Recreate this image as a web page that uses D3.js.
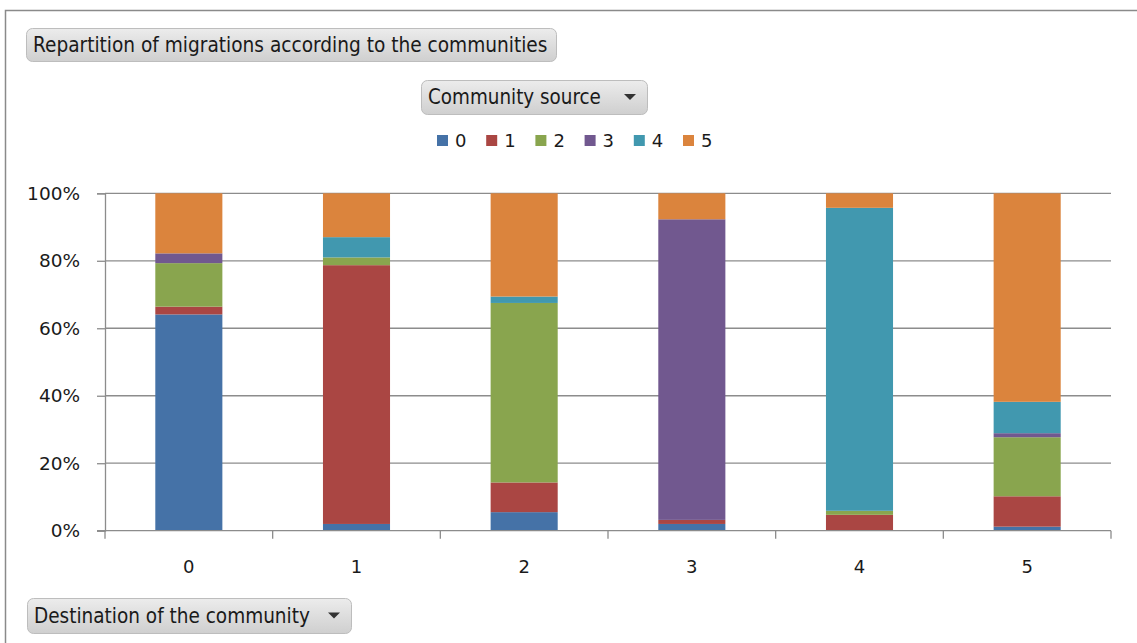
<!DOCTYPE html>
<html>
<head>
<meta charset="utf-8">
<script src="https://cdn.jsdelivr.net/npm/d3@7"></script>
<style>
  html, body { margin: 0; padding: 0; background: #fff; }
  svg { display: block; }
  text { font-family: "DejaVu Sans", Verdana, sans-serif; fill: #1a1a1a; }
  .btn-label { font-family: "DejaVu Sans Condensed", "DejaVu Sans", sans-serif; }
</style>
</head>
<body>
<svg id="chart" width="1137" height="643"></svg>
<script>
// Destination communities (x axis) and source communities (stacked series)
const destinations = ["0", "1", "2", "3", "4", "5"];
const sources = ["0", "1", "2", "3", "4", "5"];

// Share (%) of migrations coming from each source community, per destination
const fromSource0 = [64.1, 2.0, 5.5, 2.0, 0.0, 1.2];
const fromSource1 = [2.3, 76.7, 8.8, 1.2, 4.7, 9.0];
const fromSource2 = [12.9, 2.3, 53.2, 0.0, 1.2, 17.5];
const fromSource3 = [2.9, 0.0, 0.0, 89.1, 0.0, 1.2];
const fromSource4 = [0.0, 6.0, 1.9, 0.0, 89.8, 9.3];
const fromSource5 = [17.8, 13.0, 30.6, 7.7, 4.3, 61.8];

const yTicks = [0, 0.2, 0.4, 0.6, 0.8, 1.0];
const seriesColors = ["#4572A7", "#AA4643", "#89A54E", "#71588F", "#4198AF", "#DB843D"];

const seriesValues = [fromSource0, fromSource1, fromSource2, fromSource3, fromSource4, fromSource5];
const rows = destinations.map((d, i) => {
  const row = { destination: d };
  sources.forEach((s, j) => { row[s] = seriesValues[j][i]; });
  return row;
});

const svg = d3.select("#chart");

// Outer chart frame
svg.append("path")
  .attr("d", "M5.5,643 V10.5 H1137")
  .attr("fill", "none")
  .attr("stroke", "#8a8a8a")
  .attr("stroke-width", 1.5);

// Gradient used by the field buttons
const defs = svg.append("defs");
const grad = defs.append("linearGradient").attr("id", "btn").attr("x1", 0).attr("y1", 0).attr("x2", 0).attr("y2", 1);
grad.append("stop").attr("offset", "0%").attr("stop-color", "#ececec");
grad.append("stop").attr("offset", "55%").attr("stop-color", "#dcdcdc");
grad.append("stop").attr("offset", "100%").attr("stop-color", "#cfcfcf");

function fieldButton(x, y, w, h, label, textX, textW, arrow) {
  const g = svg.append("g");
  g.append("rect")
    .attr("x", x + 0.5).attr("y", y + 0.5)
    .attr("width", w).attr("height", h)
    .attr("rx", 6).attr("ry", 6)
    .attr("fill", "url(#btn)")
    .attr("stroke", "#bdbdbd")
    .attr("stroke-width", 1);
  const t = g.append("text")
    .attr("class", "btn-label")
    .attr("x", textX)
    .attr("y", y + h / 2)
    .attr("dy", "0.36em")
    .attr("font-size", 18)
    .attr("fill", "#2a2a2a")
    .text(label);
  const len = t.node().getComputedTextLength();
  t.attr("font-size", 18 * textW / len);
  if (arrow) {
    const ax = x + w - 17, ay = y + h / 2;
    g.append("path")
      .attr("d", `M${ax - 6},${ay - 3} L${ax + 6},${ay - 3} L${ax},${ay + 3} Z`)
      .attr("fill", "#333");
  }
}

fieldButton(26, 28, 530, 33, "Repartition of migrations according to the communities", 33, 515, false);
fieldButton(421, 80, 226, 34, "Community source", 428, 173, true);
fieldButton(27, 598, 324, 35, "Destination of the community", 34, 276, true);

// Legend
const legend = svg.append("g");
sources.forEach((s, i) => {
  const lx = 437 + i * 49.2;
  legend.append("rect")
    .attr("x", lx).attr("y", 135)
    .attr("width", 11).attr("height", 11)
    .attr("fill", seriesColors[i]);
  legend.append("text")
    .attr("x", lx + 18).attr("y", 141)
    .attr("dy", "0.36em")
    .attr("font-size", 18)
    .text(s);
});

// Plot area
const plotLeft = 105, plotRight = 1111, plotTop = 193.3, plotBottom = 530.7;

const x = d3.scaleBand()
  .domain(destinations)
  .range([plotLeft, plotRight])
  .paddingInner(0.6)
  .paddingOuter(0.3);

const y = d3.scaleLinear()
  .domain([0, 1])
  .range([plotBottom, plotTop]);

// Horizontal gridlines
svg.append("g")
  .selectAll("line")
  .data(yTicks.filter(v => v > 0))
  .join("line")
  .attr("x1", plotLeft).attr("x2", plotRight)
  .attr("y1", d => y(d)).attr("y2", d => y(d))
  .attr("stroke", "#8c8c8c")
  .attr("stroke-width", 1.3);

// Stacked 100% bars
const stack = d3.stack().keys(sources).offset(d3.stackOffsetExpand);
const layers = stack(rows);

svg.append("g")
  .selectAll("g")
  .data(layers)
  .join("g")
  .attr("fill", (d, i) => seriesColors[i])
  .selectAll("rect")
  .data(d => d)
  .join("rect")
  .attr("x", d => x(d.data.destination))
  .attr("width", x.bandwidth())
  .attr("y", d => y(d[1]))
  .attr("height", d => y(d[0]) - y(d[1]));

// Y axis
const yAxis = svg.append("g")
  .attr("transform", `translate(${plotLeft},0)`)
  .call(d3.axisLeft(y).tickValues(yTicks).tickFormat(d3.format(".0%")).tickSize(8).tickPadding(17));
yAxis.select(".domain").attr("stroke", "#8c8c8c").attr("stroke-width", 1.3);
yAxis.selectAll(".tick line").attr("stroke", "#8c8c8c").attr("stroke-width", 1.3);
yAxis.selectAll(".tick text")
  .attr("font-size", 18.5)
  .attr("font-family", "DejaVu Sans, Verdana, sans-serif")
  .attr("fill", "#1a1a1a");

// X axis: ticks sit on the category boundaries, labels centred in each category
const boundaries = d3.range(destinations.length + 1).map(i => plotLeft + i * (plotRight - plotLeft) / destinations.length);
const xAxisG = svg.append("g");
xAxisG.append("line")
  .attr("x1", plotLeft - 8).attr("x2", plotRight)
  .attr("y1", plotBottom).attr("y2", plotBottom)
  .attr("stroke", "#8c8c8c").attr("stroke-width", 1.3);
xAxisG.selectAll("line.tick")
  .data(boundaries)
  .join("line")
  .attr("class", "tick")
  .attr("x1", d => d).attr("x2", d => d)
  .attr("y1", plotBottom).attr("y2", plotBottom + 8)
  .attr("stroke", "#8c8c8c").attr("stroke-width", 1.3);
xAxisG.selectAll("text")
  .data(destinations)
  .join("text")
  .attr("x", d => x(d) + x.bandwidth() / 2)
  .attr("y", 567)
  .attr("dy", "0.36em")
  .attr("text-anchor", "middle")
  .attr("font-size", 18)
  .text(d => d);
</script>
</body>
</html>
